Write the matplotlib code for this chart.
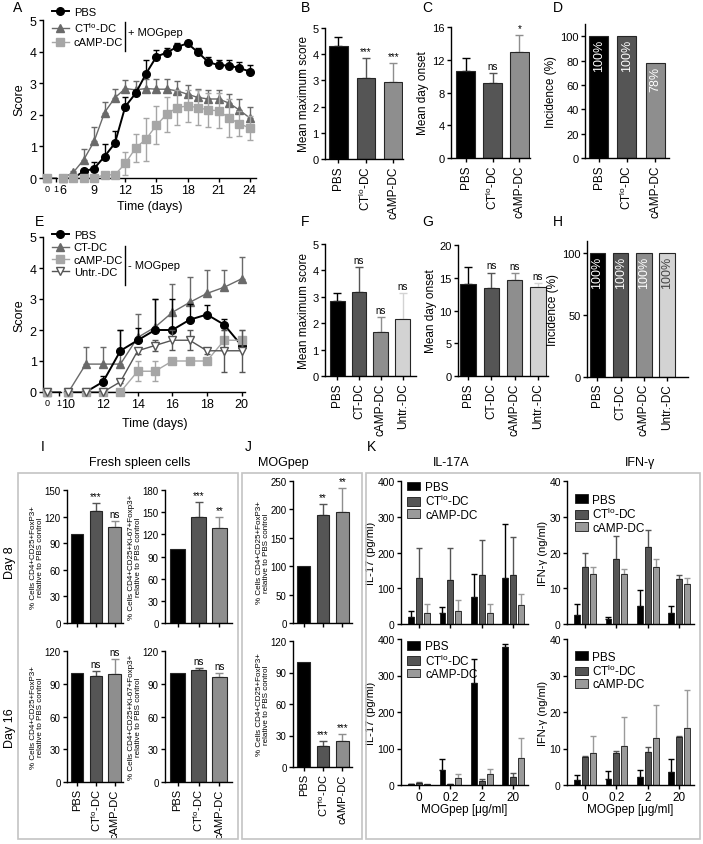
import numpy as np
import matplotlib.pyplot as plt
from matplotlib.lines import Line2D
from matplotlib.patches import Patch, Rectangle

plt.rcParams["font.family"] = ["Liberation Sans", "DejaVu Sans"]
plt.rcParams["mathtext.fontset"] = "custom"
plt.rcParams["mathtext.rm"] = "Liberation Sans"
plt.rcParams["axes.linewidth"] = 1.0
plt.rcParams["xtick.major.width"] = 1.0
plt.rcParams["ytick.major.width"] = 1.0
plt.rcParams["xtick.major.size"] = 3
plt.rcParams["ytick.major.size"] = 3
plt.rcParams["xtick.major.pad"] = 1.5
plt.rcParams["ytick.major.pad"] = 1.5

W, H = 703, 845

# ---------------- data ----------------
CTLO = "CT$^{\\mathregular{lo}}$-DC"
groups3 = ["PBS", CTLO, "cAMP-DC"]
groups4 = ["PBS", "CT-DC", "cAMP-DC", "Untr.-DC"]

# A: EAE score, + MOGpep
days_a = [0, 6, 7, 8, 9, 10, 11, 12, 13, 14, 15, 16, 17, 18, 19, 20, 21, 22, 23, 24]
pbs_a = [0, 0, 0, 0.21, 0.3, 0.68, 1.1, 2.26, 2.68, 3.3, 3.84, 3.97, 4.15, 4.26, 3.98, 3.67, 3.57, 3.56, 3.48, 3.37]
pbs_a_err = [0, 0, 0, 0.05, 0.2, 0.4, 0.4, 0.3, 0.1, 0.45, 0.22, 0.13, 0.12, 0.08, 0.12, 0.17, 0.18, 0.19, 0.2, 0.2]
ct_a = [0, 0, 0.18, 0.58, 1.16, 2.07, 2.54, 2.83, 2.79, 2.83, 2.81, 2.81, 2.76, 2.65, 2.55, 2.5, 2.5, 2.37, 2.15, 1.9]
ct_a_err = [0, 0, 0.05, 0.33, 0.45, 0.32, 0.27, 0.27, 0.27, 0.29, 0.33, 0.32, 0.3, 0.3, 0.28, 0.3, 0.28, 0.3, 0.35, 0.35]
camp_a = [0, 0, 0, 0, 0, 0.1, 0.1, 0.46, 0.95, 1.23, 1.67, 2.02, 2.23, 2.28, 2.23, 2.15, 2.13, 1.9, 1.72, 1.58]
camp_a_err = [0, 0, 0, 0, 0, 0.05, 0.05, 0.35, 0.45, 0.68, 0.6, 0.55, 0.55, 0.52, 0.55, 0.55, 0.55, 0.6, 0.4, 0.37]

# B-D
maxscore_b = [4.3, 3.1, 2.93]
maxscore_b_err = [0.35, 0.75, 0.74]
maxscore_b_sig = ["", "***", "***"]
onset_c = [10.66, 9.12, 13.0]
onset_c_err = [1.5, 1.26, 2.06]
onset_c_sig = ["", "ns", "*"]
incid_d = [100, 100, 78]

# E: EAE score, - MOGpep
days_e = [0, 10, 11, 12, 13, 14, 15, 16, 17, 18, 19, 20]
pbs_e = [0, 0, 0, 0.33, 1.33, 1.67, 2.0, 2.0, 2.33, 2.5, 2.17, 1.5]
pbs_e_err = [0, 0, 0, 0.2, 0.67, 0.4, 1.0, 1.0, 0.5, 0.3, 0.17, 0.2]
ct_e = [0, 0, 0.9, 0.9, 0.9, 1.76, 2.09, 2.57, 2.89, 3.18, 3.38, 3.65]
ct_e_err = [0, 0, 0.55, 0.55, 1.1, 0.75, 0.9, 0.93, 0.83, 0.75, 0.55, 0.7]
camp_e = [0, 0, 0, 0, 0, 0.67, 0.67, 1.0, 1.0, 1.0, 1.67, 1.67]
camp_e_err = [0, 0, 0, 0, 0, 0.33, 0.33, 0, 0, 0, 0.33, 0.33]
untr_e = [0, 0, 0, 0, 0.33, 1.33, 1.5, 1.67, 1.67, 1.33, 1.33, 1.33]
untr_e_err = [0, 0, 0, 0, 0.05, 0.1, 0.17, 0.33, 0.33, 0.1, 0.67, 0.67]

# F-H
maxscore_f = [2.83, 3.2, 1.67, 2.17]
maxscore_f_err = [0.3, 0.92, 0.58, 0.98]
onset_g = [14.0, 13.4, 14.65, 13.6]
onset_g_err = [2.6, 2.4, 1.05, 0.55]
sig_fg = ["", "ns", "ns", "ns"]
incid_h = [100, 100, 100, 100]

# I: fresh spleen cells (% of PBS)
i8_treg = [100, 126, 108]
i8_treg_err = [0, 9, 7]
i8_treg_sig = ["", "***", "ns"]
i8_ki67 = [100, 143, 128]
i8_ki67_err = [0, 21, 15]
i8_ki67_sig = ["", "***", "**"]
i16_treg = [100, 97, 99]
i16_treg_err = [0, 5, 14]
i16_ki67 = [100, 103, 96]
i16_ki67_err = [0, 1.6, 3.7]
i16_sig = ["", "ns", "ns"]

# J: MOGpep restimulated
j8_treg = [100, 190, 195]
j8_treg_err = [0, 20, 43]
j8_sig = ["", "**", "**"]
j16_treg = [100, 20, 24.5]
j16_treg_err = [0, 4.5, 6.5]
j16_sig = ["", "***", "***"]

# K: cytokines vs MOGpep concentration
conc = ["0", "0.2", "2", "20"]
il17_d8 = [[20, 32, 75, 128], [128, 122, 136, 136], [30, 35, 30, 52]]
il17_d8_err = [[15, 16, 65, 152], [84, 91, 99, 107], [27, 33, 25, 33]]
ifn_d8 = [[2.5, 1.5, 5.0, 3.2], [15.9, 18.2, 21.5, 12.6], [13.9, 14.0, 16.0, 11.3]]
ifn_d8_err = [[3.1, 0.4, 4.5, 1.8], [3.9, 6.3, 4.7, 1.1], [2.0, 1.3, 2.1, 1.5]]
il17_d16 = [[2, 40, 280, 377], [5, 3, 12, 23], [3, 18, 30, 75]]
il17_d16_err = [[1, 32, 65, 10], [2, 1, 5, 9], [1, 12, 14, 55]]
ifn_d16 = [[1.3, 1.6, 2.2, 3.6], [7.8, 8.9, 9.1, 13.2], [8.8, 10.8, 12.9, 15.6]]
ifn_d16_err = [[1.4, 2.3, 2.0, 3.5], [0.2, 0.3, 1.3, 0.3], [4.7, 7.7, 9.1, 10.5]]

C_PBS = "black"
C_CT = "#555555"
C_CAMP = "#8e8e8e"
C_UNTR = "#d3d3d3"
L_CT = "#6a6a6a"
L_CAMP = "#a6a6a6"
K_COLORS = ["black", "#555555", "#9a9a9a"]

fig = plt.figure(figsize=(W / 100, H / 100), dpi=100)


def add_ax(x0, y0, x1, y1):
    # rectangle given in pixels from the top-left corner
    return fig.add_axes([x0 / W, 1 - y1 / H, (x1 - x0) / W, (y1 - y0) / H])


def clean(ax):
    ax.spines["top"].set_visible(False)
    ax.spines["right"].set_visible(False)


def time_panel(x0, xa, xb, x1, y0, y1, lim_l, lim_r, ticks_l, ticks_r):
    axl = add_ax(x0, y0, xa, y1)
    axr = add_ax(xb, y0, x1, y1)
    for ax in (axl, axr):
        clean(ax)
        ax.set_ylim(0, 5)
    axl.set_xlim(*lim_l)
    axr.set_xlim(*lim_r)
    axr.spines["left"].set_visible(False)
    axr.tick_params(axis="y", left=False, labelleft=False)
    axl.set_yticks(range(6))
    axl.tick_params(axis="y", labelsize=9)
    axl.set_xticks(ticks_l)
    axl.tick_params(axis="x", labelsize=6.5)
    axr.set_xticks(ticks_r)
    axr.tick_params(axis="x", labelsize=9)
    axl.set_ylabel("Score", fontsize=9, labelpad=3)
    return axl, axr


def draw_series(axes, days, vals, errs, color, marker, ms, lw, mfc=None, both=False, z=3):
    days = np.asarray(days, float)
    vals = np.asarray(vals, float)
    errs = np.asarray(errs, float)
    for ax in axes:
        lo, hi = ax.get_xlim()
        ax.plot(days, vals, color=color, lw=lw, zorder=z)
        keep = (days >= lo) & (days <= hi) & (errs > 0)
        if keep.any():
            lower = errs[keep] if both else np.zeros(keep.sum())
            ax.errorbar(days[keep], vals[keep], yerr=[lower, errs[keep]], fmt="none",
                        ecolor=color, elinewidth=1, capsize=2.5, zorder=z)
        inside = (days >= lo) & (days <= hi)
        ax.plot(days[inside], vals[inside], ls="none", marker=marker, ms=ms, color=color,
                mfc=mfc or color, mec=color, mew=1, clip_on=False, zorder=z + 0.5)


def bar_panel(rect, labels, vals, errs, colors, ylim, yticks, xlim, width=0.67, notes=None,
              ylabel=None, show_labels=True, tick_fs=8, label_fs=8.5, ylabel_fs=8.5, note_fs=7,
              ylabel_pad=2):
    ax = add_ax(*rect)
    clean(ax)
    x = np.arange(len(vals))
    ax.bar(x, vals, width, color=colors, edgecolor="#262626", linewidth=0.8, zorder=2)
    for i, (v, e, c) in enumerate(zip(vals, errs, colors)):
        if e > 0:
            ax.errorbar(x[i], v, yerr=[[0], [e]], fmt="none", ecolor=c, elinewidth=1,
                        capsize=3, capthick=1, zorder=1)
        if notes and notes[i]:
            ax.annotate(notes[i], (x[i], v + e), xytext=(0, 1.5), textcoords="offset points",
                        ha="center", va="bottom", fontsize=note_fs)
    ax.set_xlim(*xlim)
    ax.set_ylim(*ylim)
    ax.set_yticks(yticks)
    ax.tick_params(axis="y", labelsize=tick_fs)
    ax.set_xticks(x)
    if show_labels:
        ax.set_xticklabels(labels, rotation=90, fontsize=label_fs)
    else:
        ax.set_xticklabels([])
    if ylabel:
        ax.set_ylabel(ylabel, fontsize=ylabel_fs, labelpad=ylabel_pad, linespacing=1.0)
    return ax


def k_panel(rect, vals, errs, ylim, yticks, ylabel, show_x, legend_anchor):
    ax = add_ax(*rect)
    clean(ax)
    x = np.arange(len(conc))
    offsets = [-0.25, 0.0, 0.25]
    for s in range(3):
        ax.bar(x + offsets[s], vals[s], 0.19, color=K_COLORS[s], edgecolor="#1a1a1a",
               linewidth=0.6, zorder=2)
        ax.errorbar(x + offsets[s], vals[s], yerr=[np.zeros(len(x)), errs[s]], fmt="none",
                    ecolor=K_COLORS[s], elinewidth=1, capsize=2, capthick=1, zorder=1)
    ax.set_xlim(-0.57, 3.47)
    ax.set_ylim(*ylim)
    ax.set_yticks(yticks)
    ax.tick_params(axis="y", labelsize=7.5)
    ax.set_xticks(x)
    if show_x:
        ax.set_xticklabels(conc, fontsize=8.5)
        ax.set_xlabel("MOGpep [\u03bcg/ml]", fontsize=8.5, labelpad=0)
    else:
        ax.set_xticklabels([])
    ax.set_ylabel(ylabel, fontsize=8, labelpad=1)
    handles = [Patch(facecolor=K_COLORS[s], edgecolor="#1a1a1a", linewidth=0.6) for s in range(3)]
    ax.legend(handles, groups3, loc="upper left", bbox_to_anchor=legend_anchor, frameon=False,
              fontsize=8.5, handlelength=1.1, handleheight=0.75, handletextpad=0.4,
              labelspacing=0.02, borderpad=0, borderaxespad=0)
    return ax


LEG = dict(loc="upper left", frameon=False, fontsize=8, handlelength=1.5, handletextpad=0.45,
           borderpad=0, borderaxespad=0)

# ---------------- A ----------------
axl, axr = time_panel(43, 57, 60, 256, 21, 179, (-0.44, 1.1), (5.71, 24.6), [0, 1],
                      [6, 9, 12, 15, 18, 21, 24])
draw_series((axl, axr), days_a, pbs_a, pbs_a_err, "black", "o", 5.5, 1.4, z=5)
draw_series((axl, axr), days_a, ct_a, ct_a_err, L_CT, "^", 5.5, 1.0, z=4)
draw_series((axl, axr), days_a, camp_a, camp_a_err, L_CAMP, "s", 5.5, 1.0, both=True, z=6)
fig.text(150 / W, 1 - 207 / H, "Time (days)", ha="center", va="center", fontsize=9)
h_a = [Line2D([], [], color="black", marker="o", ms=5.5, lw=1.4),
       Line2D([], [], color=L_CT, marker="^", ms=5.5, lw=1.0),
       Line2D([], [], color=L_CAMP, marker="s", ms=5.5, lw=1.0)]
fig.legend(h_a, groups3, bbox_to_anchor=(52 / W, 1 - 8 / H), labelspacing=0.3, **LEG)
fig.add_artist(Line2D([125 / W, 125 / W], [1 - 23 / H, 1 - 52 / H], color="black", lw=1,
                      transform=fig.transFigure))
fig.text(128 / W, 1 - 33 / H, "+ MOGpep", fontsize=8, va="center")

# ---------------- B-D ----------------
bar_panel((325, 29, 403, 160), groups3, maxscore_b, maxscore_b_err, [C_PBS, C_CT, C_CAMP],
          (0, 5), range(6), (-0.49, 2.36), notes=maxscore_b_sig, ylabel="Mean maximum score")
bar_panel((451, 28, 530, 159), groups3, onset_c, onset_c_err, [C_PBS, C_CT, C_CAMP],
          (0, 16), [0, 4, 8, 12, 16], (-0.54, 2.39), width=0.7, notes=onset_c_sig,
          ylabel="Mean day onset")
ax_d = bar_panel((585, 25, 669, 159), groups3, incid_d, [0, 0, 0], [C_PBS, C_CT, C_CAMP],
                 (0, 110), [0, 20, 40, 60, 80, 100], (-0.48, 2.49), ylabel="Incidence (%)")
for i, v in enumerate(incid_d):
    ax_d.text(i, v - 2, f"{v}%", rotation=90, ha="center", va="top", color="white", fontsize=9)

# ---------------- E ----------------
axl, axr = time_panel(43, 61, 64, 245, 238, 393, (-0.36, 1.18), (9.74, 20.2), [0, 1],
                      [10, 12, 14, 16, 18, 20])
draw_series((axl, axr), days_e, pbs_e, pbs_e_err, "black", "o", 5.5, 1.4, z=5)
draw_series((axl, axr), days_e, ct_e, ct_e_err, L_CT, "^", 5.5, 1.0, z=4)
draw_series((axl, axr), days_e, camp_e, camp_e_err, L_CAMP, "s", 5.5, 1.0, both=True, z=6)
draw_series((axl, axr), days_e, untr_e, untr_e_err, "#555555", "v", 6, 1.0, mfc="white",
            both=True, z=7)
fig.text(155 / W, 1 - 424 / H, "Time (days)", ha="center", va="center", fontsize=9)
h_e = [Line2D([], [], color="black", marker="o", ms=5.5, lw=1.4),
       Line2D([], [], color=L_CT, marker="^", ms=5.5, lw=1.0),
       Line2D([], [], color=L_CAMP, marker="s", ms=5.5, lw=1.0),
       Line2D([], [], color="#555555", marker="v", ms=6, mfc="white", lw=1.0)]
fig.legend(h_e, groups4, bbox_to_anchor=(52 / W, 1 - 231 / H), labelspacing=0.22, **LEG)
fig.add_artist(Line2D([125 / W, 125 / W], [1 - 247 / H, 1 - 286 / H], color="black", lw=1,
                      transform=fig.transFigure))
fig.text(128 / W, 1 - 266 / H, "- MOGpep", fontsize=8, va="center")

# ---------------- F-H ----------------
colors4 = [C_PBS, C_CT, C_CAMP, C_UNTR]
bar_panel((325, 245, 416, 377), groups4, maxscore_f, maxscore_f_err, colors4, (0, 5), range(6),
          (-0.55, 3.6), width=0.68, notes=sig_fg, ylabel="Mean maximum score")
bar_panel((458, 246, 548, 377), groups4, onset_g, onset_g_err, colors4, (0, 20), [0, 5, 10, 15, 20],
          (-0.43, 3.43), width=0.66, notes=sig_fg, ylabel="Mean day onset")
ax_h = bar_panel((587, 241.6, 688, 377.7), groups4, incid_h, [0, 0, 0, 0], colors4, (0, 110),
                 [0, 50, 100], (-0.45, 3.9), width=0.67, ylabel="Incidence (%)")
for i, v in enumerate(incid_h):
    ax_h.text(i, v - 2, f"{v}%", rotation=90, ha="center", va="top",
              color="white" if i < 3 else "#444444", fontsize=9)

# ---------------- I ----------------
ylab1 = "% Cells CD4+CD25+FoxP3+\nrelative to PBS control"
ylab2 = "% Cells CD4+CD25+Ki-67+Foxp3+\nrelative to PBS control"
c3 = [C_PBS, C_CT, C_CAMP]
IJ = dict(tick_fs=7, ylabel_fs=5.8, ylabel_pad=0.5, note_fs=7)
bar_panel((67, 491, 123, 624), groups3, i8_treg, i8_treg_err, c3, (0, 150), range(0, 151, 30),
          (-0.55, 2.45), width=0.66, notes=i8_treg_sig, ylabel=ylab1, show_labels=False, **IJ)
bar_panel((165, 491, 232, 624), groups3, i8_ki67, i8_ki67_err, c3, (0, 180), range(0, 181, 30),
          (-0.6, 2.6), width=0.7, notes=i8_ki67_sig, ylabel=ylab2, show_labels=False, **IJ)
bar_panel((67, 652, 123, 783), groups3, i16_treg, i16_treg_err, c3, (0, 120), range(0, 121, 30),
          (-0.55, 2.45), width=0.66, notes=i16_sig, ylabel=ylab1, label_fs=8, **IJ)
bar_panel((165, 652, 232, 783), groups3, i16_ki67, i16_ki67_err, c3, (0, 120), range(0, 121, 30),
          (-0.6, 2.6), width=0.7, notes=i16_sig, ylabel=ylab2, label_fs=8, **IJ)
fig.text(140 / W, 1 - 463 / H, "Fresh spleen cells", ha="center", va="center", fontsize=9)
fig.text(10 / W, 1 - 563 / H, "Day 8", rotation=90, ha="center", va="center", fontsize=9)
fig.text(10 / W, 1 - 728 / H, "Day 16", rotation=90, ha="center", va="center", fontsize=9)

# ---------------- J ----------------
bar_panel((293, 482, 352, 624), groups3, j8_treg, j8_treg_err, c3, (0, 250), range(0, 251, 50),
          (-0.55, 2.5), width=0.65, notes=j8_sig, ylabel=ylab1, show_labels=False, **IJ)
bar_panel((293, 642, 352, 768), groups3, j16_treg, j16_treg_err, c3, (0, 120), range(0, 121, 30),
          (-0.55, 2.5), width=0.65, notes=j16_sig, ylabel=ylab1, label_fs=8, **IJ)
fig.text(283 / W, 1 - 463 / H, "MOGpep", ha="center", va="center", fontsize=9)

# ---------------- K ----------------
k_panel((401, 482, 528, 625), il17_d8, il17_d8_err, (0, 400), range(0, 401, 100),
        "IL-17 (pg/ml)", False, (0.05, 1.0))
k_panel((567, 482, 694, 625), ifn_d8, ifn_d8_err, (0, 40), range(0, 41, 10),
        "IFN-\u03b3 (ng/ml)", False, (0.06, 0.91))
k_panel((401, 640, 528, 786), il17_d16, il17_d16_err, (0, 400), range(0, 401, 100),
        "IL-17 (pg/ml)", True, (0.05, 0.99))
k_panel((567, 640, 694, 786), ifn_d16, ifn_d16_err, (0, 40), range(0, 41, 10),
        "IFN-\u03b3 (ng/ml)", True, (0.06, 0.92))
fig.text(451 / W, 1 - 463 / H, "IL-17A", ha="center", va="center", fontsize=9)
fig.text(640 / W, 1 - 463 / H, "IFN-\u03b3", ha="center", va="center", fontsize=9)

# boxes around I, J, K
for bx0, bx1 in [(18, 238), (242, 362), (366, 700)]:
    fig.add_artist(Rectangle((bx0 / W, 1 - 840 / H), (bx1 - bx0) / W, (840 - 474) / H,
                             transform=fig.transFigure, fill=False, edgecolor="#c4c4c4", lw=1.2))

# panel letters
for letter, px, py in [("A", 18, 8), ("B", 305, 8), ("C", 427, 8), ("D", 558, 8),
                       ("E", 39, 222), ("F", 305, 222), ("G", 428, 222), ("H", 558, 222),
                       ("I", 43, 447), ("J", 248, 447), ("K", 372, 447)]:
    fig.text(px / W, 1 - py / H, letter, ha="center", va="center", fontsize=10)

fig.savefig("out.png", dpi=100)
